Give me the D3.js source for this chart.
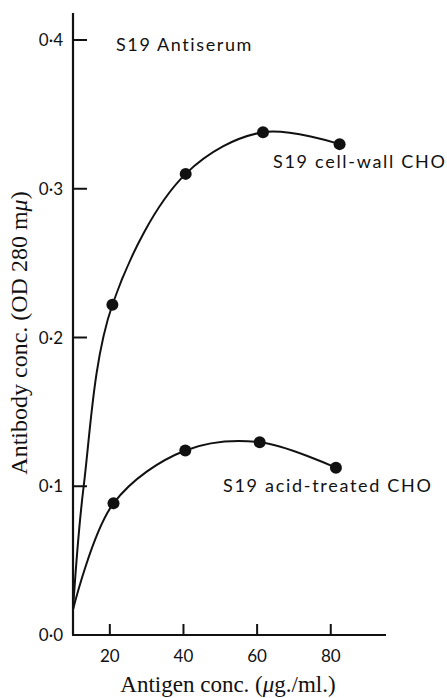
<!DOCTYPE html>
<html>
<head>
<meta charset="utf-8">
<script src="https://cdn.jsdelivr.net/npm/d3@7"></script>
<style>
  body { margin: 0; background: #fff; }
  text { fill: #111; }
</style>
</head>
<body>
<script>
(function() {
  var width = 447;
  var height = 698;

  var xTicks = [20, 40, 60, 80];
  var yTicks = [0, 0.1, 0.2, 0.3, 0.4];
  var origin = [10, 0.017]; // where both curves start
  var cellWallX = [20.7, 40.6, 61.6, 82.4];
  var cellWallY = [0.222, 0.310, 0.338, 0.330];
  var cellWallTrace = [[12.9, 0.1]]; // where the drawn curve crosses 0.1
  var acidX = [21.0, 40.5, 60.7, 81.4];
  var acidY = [0.0885, 0.124, 0.1296, 0.1125];

  var svg = d3.select("body")
    .append("svg")
    .attr("width", width)
    .attr("height", height);

  var x = d3.scaleLinear().domain([10, 95]).range([73, 386]);
  var y = d3.scaleLinear().domain([0, 0.4]).range([635, 40]);

  var sans = "Lato, 'Open Sans', sans-serif";
  var serif = "'Liberation Serif', 'DejaVu Serif', serif";

  // axes
  svg.append("line")
    .attr("x1", x(10)).attr("x2", x(10))
    .attr("y1", 13).attr("y2", y(0))
    .attr("stroke", "#111").attr("stroke-width", 2.2);
  svg.append("line")
    .attr("x1", x(10) - 1).attr("x2", x(95))
    .attr("y1", y(0)).attr("y2", y(0))
    .attr("stroke", "#111").attr("stroke-width", 2.2);

  svg.selectAll(".ytick")
    .data(yTicks.slice(1))
    .enter().append("line")
    .attr("class", "ytick")
    .attr("x1", x(10)).attr("x2", x(10) + 14)
    .attr("y1", function(d) { return y(d); })
    .attr("y2", function(d) { return y(d); })
    .attr("stroke", "#111").attr("stroke-width", 2);

  svg.selectAll(".ylab")
    .data(yTicks)
    .enter().append("text")
    .attr("class", "ylab")
    .attr("x", 63)
    .attr("y", function(d) { return y(d) + 6; })
    .attr("text-anchor", "end")
    .style("font-family", sans)
    .style("font-size", "17px")
    .text(function(d) { return d.toFixed(1).replace(".", "\u00b7"); });

  svg.selectAll(".xtick")
    .data(xTicks)
    .enter().append("line")
    .attr("class", "xtick")
    .attr("x1", function(d) { return x(d); })
    .attr("x2", function(d) { return x(d); })
    .attr("y1", y(0)).attr("y2", y(0) - 11)
    .attr("stroke", "#111").attr("stroke-width", 2);

  svg.selectAll(".xlab")
    .data(xTicks)
    .enter().append("text")
    .attr("class", "xlab")
    .attr("x", function(d) { return x(d); })
    .attr("y", 662)
    .attr("text-anchor", "middle")
    .style("font-family", sans)
    .style("font-size", "17px")
    .text(function(d) { return d; });

  // axis titles
  var xt = svg.append("text")
    .attr("x", 228).attr("y", 692)
    .attr("text-anchor", "middle")
    .style("font-family", serif)
    .style("font-size", "23px");
  xt.append("tspan").text("Antigen conc. (");
  xt.append("tspan").style("font-style", "italic").text("\u03bc");
  xt.append("tspan").text("g./ml.)");

  var yt = svg.append("text")
    .attr("transform", "translate(27,333) rotate(-90)")
    .attr("text-anchor", "middle")
    .style("font-family", serif)
    .style("font-size", "24px");
  yt.append("tspan").text("Antibody conc. (OD 280 m");
  yt.append("tspan").style("font-style", "italic").text("\u03bc");
  yt.append("tspan").text(")");

  svg.append("text")
    .attr("x", 116).attr("y", 51)
    .style("font-family", sans)
    .style("font-size", "18px")
    .style("letter-spacing", "1.6px")
    .text("S19 Antiserum");

  // curves
  var line = d3.line()
    .x(function(d) { return x(d[0]); })
    .y(function(d) { return y(d[1]); })
    .curve(d3.curveCatmullRom.alpha(0.5));

  var series = [
    { xs: cellWallX, ys: cellWallY, trace: cellWallTrace, label: "S19 cell-wall CHO", lx: 273, ly: 168 },
    { xs: acidX, ys: acidY, trace: [], label: "S19 acid-treated CHO", lx: 223, ly: 492 }
  ];

  series.forEach(function(s) {
    var pts = s.xs.map(function(v, i) { return [v, s.ys[i]]; });
    svg.append("path")
      .datum([origin].concat(s.trace, pts))
      .attr("d", line)
      .attr("fill", "none")
      .attr("stroke", "#111")
      .attr("stroke-width", 2);
    svg.selectAll(null)
      .data(pts)
      .enter().append("circle")
      .attr("cx", function(d) { return x(d[0]); })
      .attr("cy", function(d) { return y(d[1]); })
      .attr("r", 6)
      .attr("fill", "#111");
    svg.append("text")
      .attr("x", s.lx).attr("y", s.ly)
      .style("font-family", sans)
      .style("font-size", "18px")
      .style("letter-spacing", "1.7px")
      .text(s.label);
  });
})();
</script>
</body>
</html>
